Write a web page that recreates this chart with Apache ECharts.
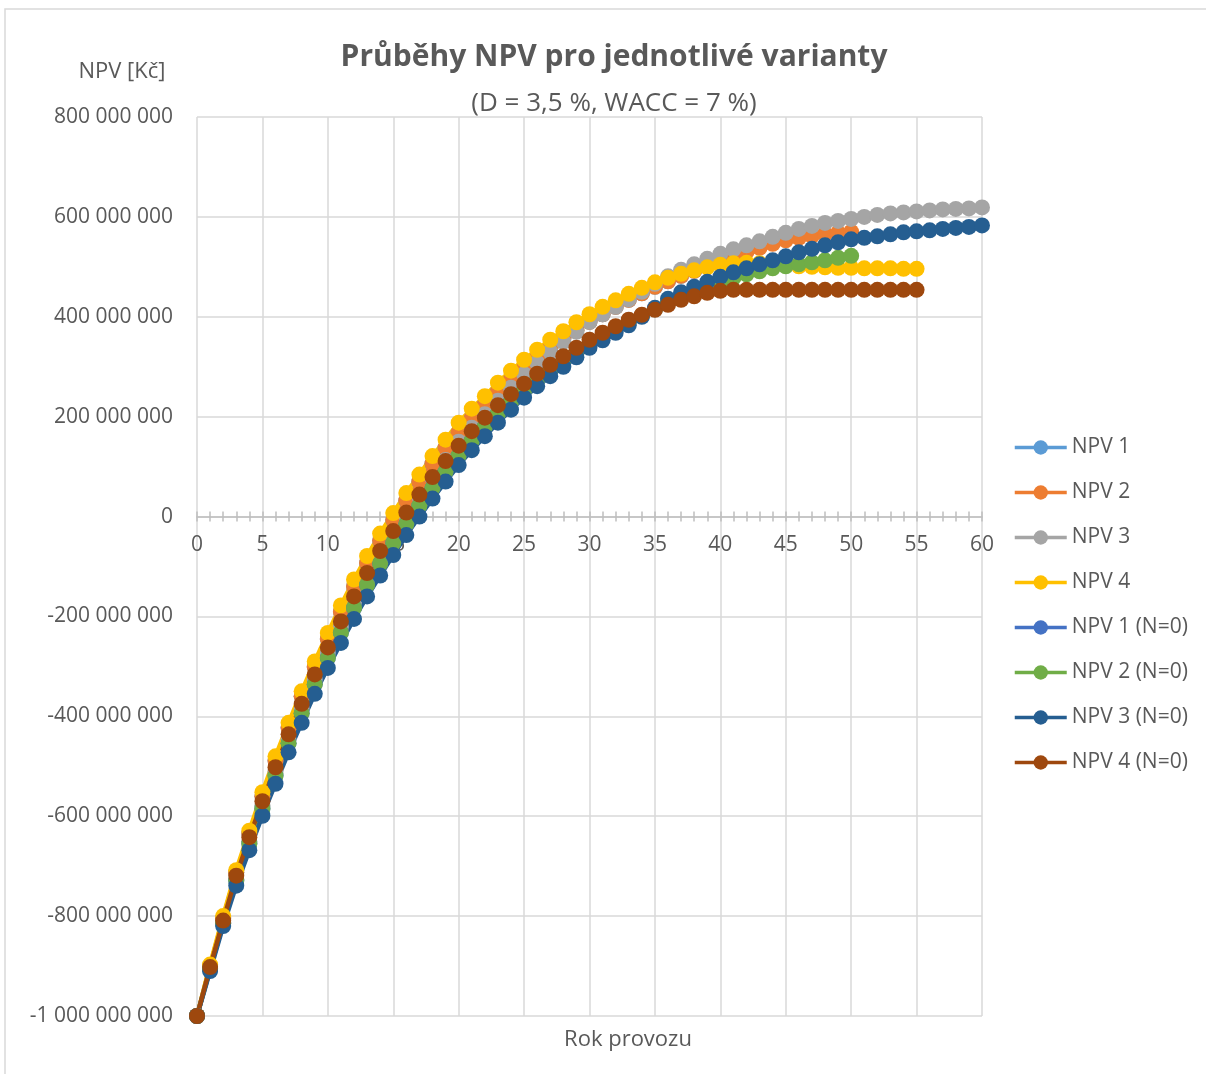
<!DOCTYPE html>
<html>
<head>
<meta charset="utf-8">
<script src="https://cdn.jsdelivr.net/npm/echarts@6/dist/echarts.min.js"></script>
<style>
  html, body { margin: 0; padding: 0; background: #ffffff; }
  #chart { width: 1206px; height: 1074px; }
</style>
</head>
<body>
<div id="chart"></div>
<script>
// NPV per operating year (index = year), values in millions of CZK
const npv1 = [-1000,-900,-804,-712,-635,-560,-489,-423,-360,-301,-245,-191,-140,-93,-48,-7,32,70,106,138,168,197,224,250,274,297,318,337,356,373,390,405,420,434,447,460,471,482,492,502,514];
const npv2 = [-1000,-900,-804,-712,-635,-560,-489,-423,-360,-301,-245,-191,-140,-93,-48,-7,32,70,106,138,168,197,224,250,274,297,318,337,356,373,390,405,420,434,447,460,471,482,492,502,514,522,530,538,546,553,558,562,566,568,570];
const npv3 = [-1000,-905,-813,-726,-650,-578,-511,-446,-385,-327,-273,-221,-171,-124,-80,-38,2,40,77,113,150,178,205,232,258,285,308,330,350,370,390,405,420,435,450,466,481,494,505,516,526,535,543,551,560,568,576,582,588,592,596,600,604,607,609,611,613,615,616,617,619];
const npv4 = [-1000,-897,-800,-708,-629,-552,-480,-413,-350,-290,-233,-178,-126,-79,-34,7,47,84,121,154,188,216,241,268,292,314,334,354,371,389,405,420,433,446,458,469,478,486,493,499,504,507,508,507,505,503,501,500,499,498,498,497,497,497,496,496];
const npv1N0 = [-1000,-906,-815,-729,-655,-585,-519,-454,-394,-336,-283,-232,-183,-137,-94,-53,-15,22,57,90,122,152,180,206,230,252,273,293,311,328,345,360,375,389,402,415,428,440,451,461,470];
const npv2N0 = [-1000,-906,-815,-729,-655,-585,-519,-454,-394,-336,-283,-232,-183,-137,-94,-53,-15,22,57,90,122,152,180,206,230,252,273,293,311,328,345,360,375,389,402,415,428,440,451,461,470,478,485,491,497,501,505,509,513,518,522];
const npv3N0 = [-1000,-910,-820,-739,-668,-599,-535,-472,-413,-355,-303,-253,-205,-160,-118,-77,-37,0,36,70,103,133,161,188,214,238,261,281,300,319,338,353,368,383,400,418,436,449,460,470,480,489,497,505,513,521,529,536,543,549,555,558,561,565,569,571,573,576,578,580,583];
const npv4N0 = [-1000,-902,-809,-719,-642,-570,-502,-436,-375,-316,-262,-210,-160,-113,-69,-29,8,44,79,111,142,171,198,223,245,266,286,304,321,338,354,368,381,394,404,414,424,434,441,448,452,454,454,454,454,454,454,454,454,454,454,454,454,454,454,454];

const seriesNames = ['NPV 1', 'NPV 2', 'NPV 3', 'NPV 4', 'NPV 1 (N=0)', 'NPV 2 (N=0)', 'NPV 3 (N=0)', 'NPV 4 (N=0)'];
const seriesValues = [npv1, npv2, npv3, npv4, npv1N0, npv2N0, npv3N0, npv4N0];
const seriesColors = ['#5B9BD5', '#ED7D31', '#A5A5A5', '#FFC000', '#4472C4', '#70AD47', '#255E91', '#9E480E'];

const titleText = 'Průběhy NPV pro jednotlivé varianty';
const subtitleText = '(D = 3,5 %, WACC = 7 %)';
const yAxisTitle = 'NPV [Kč]';
const xAxisTitle = 'Rok provozu';
const MILLION = 1e6;
const Y_MIN = -1000 * MILLION;
const Y_MAX = 800 * MILLION;

const FONT = "'Open Sans', 'Noto Sans', sans-serif";
const TEXT_COLOR = '#595959';
const GRID_COLOR = '#d9d9d9';

// plot area in pixels
const PLOT = { left: 197, right: 224, top: 117, bottom: 58 };
const PLOT_HEIGHT = 1074 - PLOT.top - PLOT.bottom;
// height of the upper band that ends on the zero line
const ZERO_BAND = PLOT_HEIGHT * (Y_MAX / (Y_MAX - Y_MIN));

// thousands separated by spaces, e.g. "-1 000 000 000"
function formatCzk(v) {
  const s = String(Math.round(Math.abs(v))).replace(/\B(?=(\d{3})+(?!\d))/g, ' ');
  return (v < 0 ? '-' : '') + s;
}

const chart = echarts.init(document.getElementById('chart'), null, { renderer: 'canvas' });

const series = seriesNames.map((name, i) => ({
  name: name,
  type: 'line',
  xAxisIndex: 0,
  yAxisIndex: 0,
  data: seriesValues[i].map((v, year) => [year, v * MILLION]),
  symbol: 'circle',
  symbolSize: 16,
  showAllSymbol: true,
  color: seriesColors[i],
  itemStyle: { color: seriesColors[i] },
  lineStyle: { color: seriesColors[i], width: 4.5 },
  emphasis: { disabled: true },
  animation: false
}));

const tickStyle = { color: '#bfbfbf', width: 1.5 };
const yearAxisBase = { type: 'value', min: 0, max: 60, interval: 5 };

chart.setOption({
  animation: false,
  backgroundColor: '#ffffff',
  textStyle: { fontFamily: FONT },
  title: {
    text: titleText,
    subtext: subtitleText,
    left: 609,
    top: 37,
    textAlign: 'center',
    itemGap: 19,
    textStyle: { fontFamily: FONT, fontSize: 30, fontWeight: 'bold', color: TEXT_COLOR },
    subtextStyle: { fontFamily: FONT, fontSize: 26, color: TEXT_COLOR }
  },
  legend: {
    orient: 'vertical',
    left: 1008,
    top: 432,
    itemWidth: 52,
    itemHeight: 18,
    itemGap: 24,
    data: seriesNames,
    lineStyle: { width: 3.5 },
    textStyle: { fontFamily: FONT, fontSize: 21, color: TEXT_COLOR }
  },
  grid: [
    { left: PLOT.left, right: PLOT.right, top: PLOT.top, bottom: PLOT.bottom, containLabel: false },
    // band from the top of the plot down to the zero line, carries the year axis
    { left: PLOT.left, right: PLOT.right, top: PLOT.top, height: ZERO_BAND, containLabel: false }
  ],
  xAxis: [
    Object.assign({}, yearAxisBase, {
      gridIndex: 0,
      axisLine: { show: false },
      axisTick: { show: false },
      axisLabel: { show: false },
      splitLine: { show: true, lineStyle: { color: GRID_COLOR, width: 1.5 } }
    }),
    Object.assign({}, yearAxisBase, {
      gridIndex: 1,
      position: 'bottom',
      axisLine: { show: true, onZero: false, lineStyle: tickStyle },
      axisTick: { show: true, length: 5, lineStyle: tickStyle },
      minorTick: { show: true, splitNumber: 5, length: 5, lineStyle: tickStyle },
      axisLabel: { fontFamily: FONT, fontSize: 21, color: TEXT_COLOR, margin: 18 },
      splitLine: { show: false }
    }),
    Object.assign({}, yearAxisBase, {
      gridIndex: 1,
      position: 'bottom',
      axisLine: { show: false, onZero: false },
      axisTick: { show: true, inside: true, length: 5, lineStyle: tickStyle },
      minorTick: { show: true, splitNumber: 5, length: 5, lineStyle: tickStyle },
      axisLabel: { show: false },
      splitLine: { show: false }
    })
  ],
  yAxis: [
    {
      type: 'value',
      gridIndex: 0,
      min: Y_MIN,
      max: Y_MAX,
      interval: 200 * MILLION,
      axisLine: { show: false },
      axisTick: { show: false },
      axisLabel: { fontFamily: FONT, fontSize: 21, color: TEXT_COLOR, margin: 24, formatter: formatCzk },
      splitLine: { show: true, lineStyle: { color: GRID_COLOR, width: 1.5 } }
    },
    {
      type: 'value',
      gridIndex: 1,
      min: 0,
      max: Y_MAX,
      show: false
    }
  ],
  graphic: [
    {
      type: 'rect',
      silent: true,
      z: -10,
      shape: { x: 5, y: 9, width: 1400, height: 1200 },
      style: { fill: 'none', stroke: GRID_COLOR, lineWidth: 1.5 }
    },
    {
      type: 'text',
      silent: true,
      style: { text: yAxisTitle, x: 122, y: 72, align: 'center', verticalAlign: 'middle', font: '22px ' + FONT, fill: TEXT_COLOR }
    },
    {
      type: 'text',
      silent: true,
      style: { text: xAxisTitle, x: 628, y: 1040, align: 'center', verticalAlign: 'middle', font: '22px ' + FONT, fill: TEXT_COLOR }
    }
  ],
  series: series
});
</script>
</body>
</html>
